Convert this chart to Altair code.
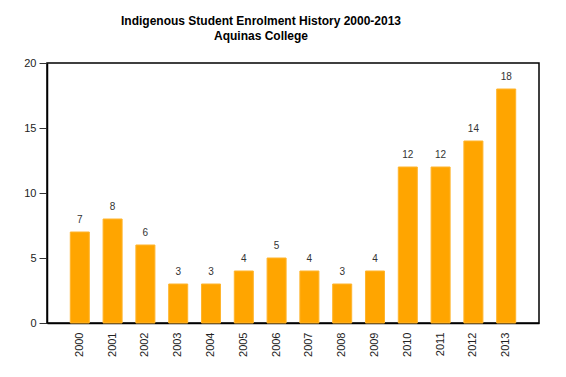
import altair as alt
import pandas as pd

years = ["2000", "2001", "2002", "2003", "2004", "2005", "2006",
         "2007", "2008", "2009", "2010", "2011", "2012", "2013"]
enrolments = [7, 8, 6, 3, 3, 4, 5, 4, 3, 4, 12, 12, 14, 18]

df = pd.DataFrame({"year": years, "count": enrolments})

FONT = "Liberation Sans"

x = alt.X("year:N", sort=years, title=None,
          scale=alt.Scale(paddingInner=0.42, paddingOuter=0.71),
          axis=alt.Axis(labelAngle=-90, labelAlign="right", labelBaseline="middle",
                        ticks=False, labelPadding=9, labelFont=FONT, labelFontSize=11,
                        labelColor="#222222", domainColor="#000000", domainWidth=1.5))
y = alt.Y("count:Q", title=None,
          scale=alt.Scale(domain=[0, 20], nice=False),
          axis=alt.Axis(values=[0, 5, 10, 15, 20], grid=False, tickSize=8,
                        tickColor="#333333", labelFont=FONT, labelFontSize=11,
                        labelColor="#222222", labelPadding=3,
                        domainColor="#000000", domainWidth=1.5))

bars = alt.Chart(df).mark_bar(color="#FFA500", stroke="#FFB52E", strokeWidth=1).encode(x=x, y=y)
labels = alt.Chart(df).mark_text(dy=-12, fontSize=10, font=FONT, color="#333333").encode(
    x=x, y=y, text="count:Q")

chart = (bars + labels).properties(
    width=492, height=260,
    title=alt.TitleParams(
        text=["Indigenous Student Enrolment History 2000-2013", "Aquinas College"],
        font=FONT, fontSize=12, fontWeight="bold", color="#000000",
        anchor="middle", dx=-32, offset=14, lineHeight=15),
    autosize=alt.AutoSizeParams(type="none"),
    padding={"left": 39, "top": 55, "right": 19, "bottom": 46},
).configure_view(stroke="#000000", strokeWidth=1.5)

chart.save("out.html", embed_options={"renderer": "svg", "actions": False})
